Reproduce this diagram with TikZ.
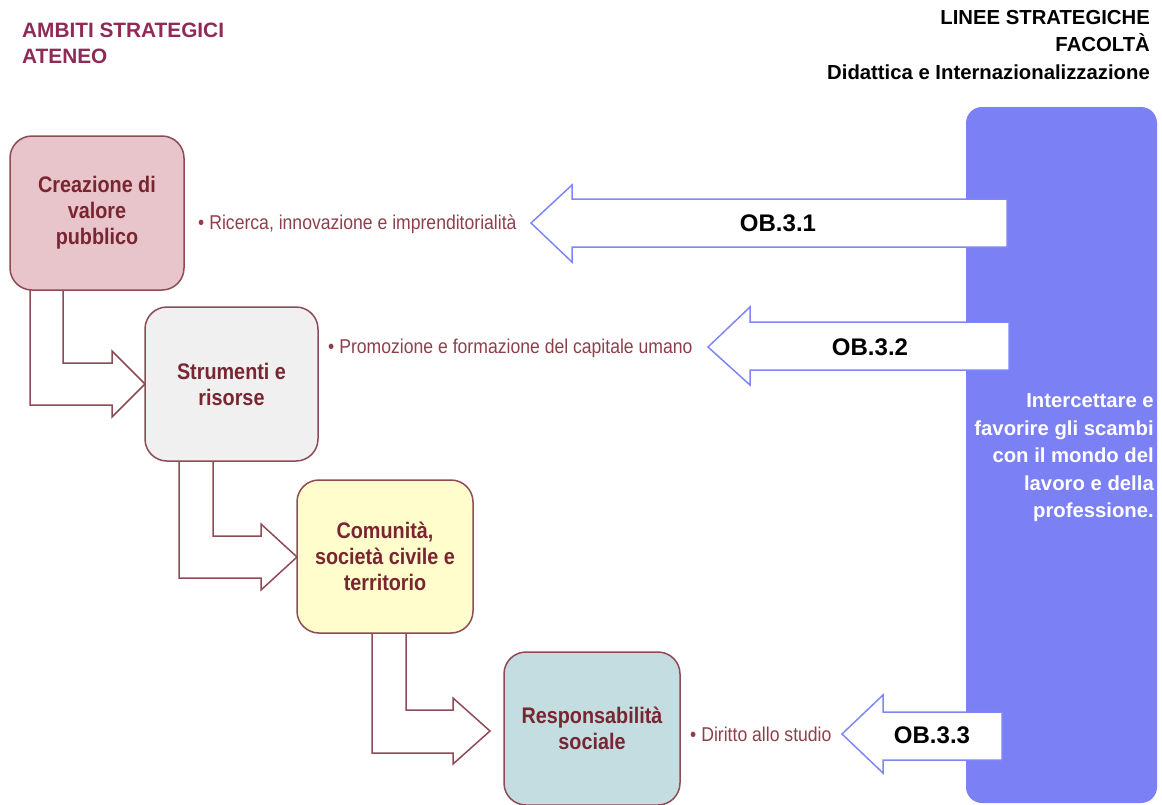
\documentclass[tikz,border=0pt]{standalone}
\usepackage{fontspec}
\setmainfont{Liberation Sans}
\newfontfamily\narrowf[FakeStretch=0.88]{Liberation Sans}
\usetikzlibrary{calc}
\definecolor{maroon}{HTML}{8E4A55}
\definecolor{boxtext}{HTML}{7A2632}
\definecolor{bultext}{HTML}{8E3F4B}
\definecolor{titlecol}{HTML}{8E2A55}
\definecolor{panelblue}{HTML}{7B80F5}
\definecolor{arrowblue}{HTML}{7F86F7}
\definecolor{pinkfill}{HTML}{E8C5CB}
\definecolor{greyfill}{HTML}{F0F0F0}
\definecolor{yellowfill}{HTML}{FEFDCB}
\definecolor{bluefill}{HTML}{C3DDE1}
\begin{document}
\begin{tikzpicture}[x=1pt,y=-1pt,
  ambito/.style={draw=maroon, line width=1.5pt, rounded corners=22pt, text=boxtext,
    font=\narrowf\bfseries\fontsize{22.5}{26}\selectfont, align=center,
    inner sep=0pt, outer sep=0pt},
  bent/.style={draw=maroon, line width=1.5pt, fill=white},
  bullettext/.style={anchor=west, inner sep=0pt, text=bultext,
    font=\narrowf\fontsize{20}{24}\selectfont},
  bigarrow/.style={draw=arrowblue, line width=1.5pt, fill=white},
  oblabel/.style={font=\bfseries\fontsize{24}{28}\selectfont, inner sep=0pt},
  panelbox/.style={fill=panelblue, rounded corners=16pt, inner sep=0pt, outer sep=0pt}
]
\useasboundingbox (0,0) rectangle (1162,804);

% titles
\node[anchor=west, align=left, inner sep=0pt, text=titlecol,
  font=\bfseries\fontsize{20.8}{26}\selectfont] (tl) at (22,43)
  {AMBITI STRATEGICI\\ATENEO};
\node[anchor=east, align=right, inner sep=0pt,
  font=\bfseries\fontsize{20.3}{27.5}\selectfont] (tr) at (1150,45)
  {LINEE STRATEGICHE\\FACOLTÀ\\Didattica e Internazionalizzazione};

% right panel
\node[panelbox, minimum width=191pt, minimum height=696pt] (panel) at (1061.5,455) {};
\node[anchor=east, align=right, inner sep=0pt, text=white,
  font=\bfseries\fontsize{20.3}{27.5}\selectfont] (ptext) at (1154,458)
  {Intercettare e\\favorire gli scambi\\con il mondo del\\lavoro e della\\professione.};

% box node positions
\path (97,213) coordinate (c1) (231.5,384) coordinate (c2)
      (385,556.5) coordinate (c3) (592,728.5) coordinate (c4);

% bent arrows (drawn under boxes)
\path (10,290) coordinate (b1sw) (145,461) coordinate (b2sw) (297,633) coordinate (b3sw);
\coordinate (tip1) at (145,384);
\coordinate (tip2) at (297,557);
\coordinate (tip3) at (490,731);
\draw[bent] ($(b1sw)+(20,0)$) |- ($(tip1)+(-33,21)$) -- ++(0,12) -- (tip1)
  -- ($(tip1)+(-33,-33)$) -- ++(0,12) -| ($(b1sw)+(53,0)$);
\draw[bent] ($(b2sw)+(34,0)$) |- ($(tip2)+(-36,21)$) -- ++(0,12) -- (tip2)
  -- ($(tip2)+(-36,-33)$) -- ++(0,12) -| ($(b2sw)+(68,0)$);
\draw[bent] ($(b3sw)+(75,0)$) |- ($(tip3)+(-37,22)$) -- ++(0,11) -- (tip3)
  -- ($(tip3)+(-37,-33)$) -- ++(0,12) -| ($(b3sw)+(109,0)$);

% boxes
\node[ambito, fill=pinkfill, minimum width=174pt, minimum height=154pt] (b1) at (c1)
  {Creazione di\\valore\\pubblico};
\node[ambito, fill=greyfill, minimum width=173pt, minimum height=154pt] (b2) at (c2)
  {Strumenti e\\risorse};
\node[ambito, fill=yellowfill, minimum width=176pt, minimum height=153pt] (b3) at (c3)
  {Comunità,\\società civile e\\territorio};
\node[ambito, fill=bluefill, minimum width=176pt, minimum height=153pt] (b4) at (c4)
  {Responsabilità\\sociale};

% bullet texts
\node[bullettext] (t1) at (198,224) {•\hspace{5pt}Ricerca, innovazione e imprenditorialità};
\node[bullettext] (t2) at (328,348) {•\hspace{5pt}Promozione e formazione del capitale umano};
\node[bullettext] (t3) at (690,734) {•\hspace{5pt}Diritto allo studio};

% big arrows
\draw[bigarrow] (1007,199) -- (572,199) -- (572,185) -- (531,223) -- (572,262)
  -- (572,247) -- (1007,247) -- cycle;
\node[oblabel] (ob1) at (778,223) {OB.3.1};
\draw[bigarrow] (1009,322) -- (750,322) -- (750,307) -- (708,347) -- (750,385)
  -- (750,370) -- (1009,370) -- cycle;
\node[oblabel] (ob2) at (870,347) {OB.3.2};
\draw[bigarrow] (1002,712) -- (883,712) -- (883,695) -- (842,734) -- (883,773)
  -- (883,760) -- (1002,760) -- cycle;
\node[oblabel] (ob3) at (932,735) {OB.3.3};
\end{tikzpicture}
\end{document}
